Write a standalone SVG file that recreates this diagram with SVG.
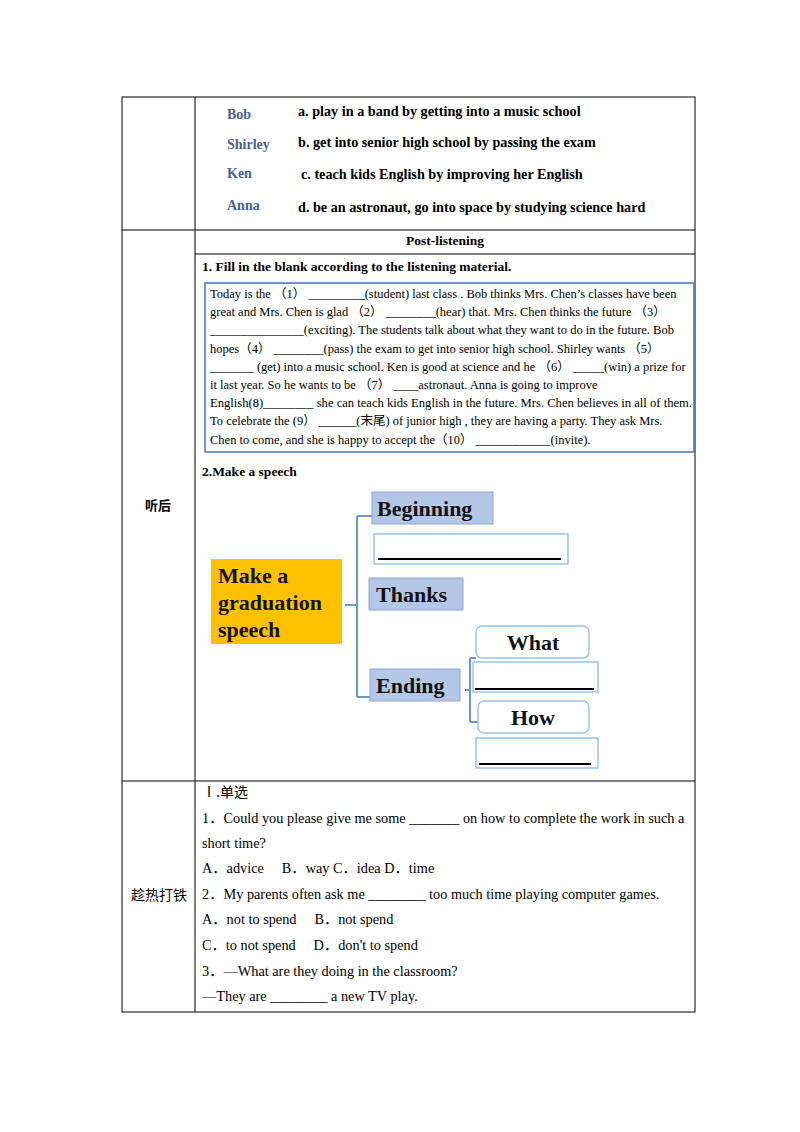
<svg xmlns="http://www.w3.org/2000/svg" width="800" height="1132" viewBox="0 0 800 1132">
<style>
.t{font-family:"Liberation Serif","Noto Sans CJK SC",serif;font-size:14.3px;fill:#000}
.b{font-weight:bold}
.m{font-size:14.2px}
.n{font-family:"Liberation Serif",serif;font-weight:bold;font-size:14px;fill:#4a5f96}
.cn{font-family:"Noto Sans CJK SC",sans-serif;font-size:13px;fill:#000}
.g{fill:none;stroke:#000;stroke-width:1}
.mm{font-family:"Liberation Serif",serif;font-weight:bold;font-size:22px;fill:#111}
.bl{fill:#b4c7e7;stroke:#8ea6cf;stroke-width:1}
.wb{fill:#fff;stroke:#9dc3e6;stroke-width:1.5}
.ul{stroke:#000;stroke-width:2}
.c{fill:none;stroke:#6f93cc;stroke-width:2}
</style>
<rect width="800" height="1132" fill="#fff"/>
<g id="table">
<rect class="g" x="122" y="97" width="573" height="915"/>
<line class="g" x1="195" y1="97" x2="195" y2="1012"/>
<line class="g" x1="122" y1="230" x2="695" y2="230"/>
<line class="g" x1="195" y1="254" x2="695" y2="254"/>
<line class="g" x1="122" y1="781" x2="695" y2="781"/>
</g>
<g id="matching">
<text class="n" x="227" y="119">Bob</text>
<text class="n" x="227" y="149">Shirley</text>
<text class="n" x="227" y="178">Ken</text>
<text class="n" x="227" y="210">Anna</text>
<text class="t b m" x="298" y="116">a. play in a band by getting into a music school</text>
<text class="t b m" x="298" y="147">b. get into senior high school by passing the exam</text>
<text class="t b m" x="301" y="179">c. teach kids English by improving her English</text>
<text class="t b m" x="298" y="212">d. be an astronaut, go into space by studying science hard</text>
</g>
<text class="t b" x="445" y="245" text-anchor="middle" style="font-size:13.5px">Post-listening</text>
<text class="t b" x="202" y="271" style="font-size:13.5px">1. Fill in the blank according to the listening material.</text>
<g id="fillbox">
<rect x="205" y="283" width="489" height="169" fill="#fff" stroke="#4472c4" stroke-width="1.5"/>
<g class="t" style="font-size:12.5px">
<text x="210" y="298">Today is the （1） _________(student) last class . Bob thinks Mrs. Chen’s classes have been</text>
<text x="210" y="316">great and Mrs. Chen is glad （2） ________(hear) that. Mrs. Chen thinks the future （3）</text>
<text x="210" y="334">_______________(exciting). The students talk about what they want to do in the future. Bob</text>
<text x="210" y="353">hopes（4） ________(pass) the exam to get into senior high school.  Shirley wants （5）</text>
<text x="210" y="371">_______ (get) into a music school. Ken is good at science and he （6） _____(win) a prize for</text>
<text x="210" y="389">it last year. So he wants to be （7） ____astronaut. Anna is going to improve</text>
<text x="210" y="407" textLength="482" lengthAdjust="spacingAndGlyphs">English(8)________ she can teach kids English in the future. Mrs. Chen believes in all of them.</text>
<text x="210" y="425">To celebrate the (9） ______(末尾) of junior high , they are having a party. They ask Mrs.</text>
<text x="210" y="444">Chen to come, and she is happy to accept the（10） ____________(invite).</text>
</g>
</g>
<text class="t b" x="202" y="476" style="font-size:13.5px">2.Make  a speech</text>
<text class="cn" x="145" y="510" font-weight="bold">听后</text>
<g id="connectors">
<path class="c" d="M345 605H357M357 516V697M357 516H372M357 697H372"/>
<path class="c" d="M465 690H470M470 658V722M470 658H476M470 722H478"/>
</g>
<g id="make"><rect x="211" y="559" width="131" height="85" fill="#ffc000"/>
<text class="mm" x="218" y="583">Make a</text><text class="mm" x="218" y="610">graduation</text><text class="mm" x="218" y="637">speech</text></g>
<g id="beginning"><rect class="bl" x="372" y="492" width="121" height="32"/><text class="mm" x="377" y="516">Beginning</text></g>
<g id="blank1"><rect class="wb" x="374" y="534" width="194" height="30"/><line class="ul" x1="378" y1="559" x2="561" y2="559"/></g>
<g id="thanks"><rect class="bl" x="369" y="578" width="94" height="32"/><text class="mm" x="376" y="602">Thanks</text></g>
<g id="ending"><rect class="bl" x="370" y="669" width="90" height="32"/><text class="mm" x="376" y="693">Ending</text></g>
<g id="what"><rect class="wb" x="476" y="626" width="113" height="32" rx="6"/><text class="mm" x="533" y="650" text-anchor="middle">What</text></g>
<g id="blank2"><rect class="wb" x="473" y="662" width="125" height="30"/><line class="ul" x1="475" y1="689" x2="594" y2="689"/></g>
<g id="how"><rect class="wb" x="478" y="701" width="111" height="32" rx="6"/><text class="mm" x="533" y="725" text-anchor="middle">How</text></g>
<g id="blank3"><rect class="wb" x="476" y="738" width="122" height="30"/><line class="ul" x1="479" y1="764" x2="591" y2="764"/></g>
<g id="practice" class="t">
<text class="cn" x="131" y="900" style="font-size:14px">趁热打铁</text>
<text x="202" y="797"><tspan class="cn" style="font-size:14px">Ⅰ.单选</tspan></text>
<text x="202" y="823">1．Could you please give me some _______ on how to complete the work in such a</text>
<text x="202" y="848">short time?</text>
<text x="202" y="873">A．advice　 B．way  C．idea  D．time</text>
<text x="202" y="899">2．My parents often ask me ________ too much time playing computer games.</text>
<text x="202" y="924">A．not to spend　 B．not spend</text>
<text x="202" y="950">C．to not spend　 D．don't to spend</text>
<text x="202" y="976">3．—What are they doing in the classroom?</text>
<text x="202" y="1001">—They are ________ a new TV play.</text>
</g>
</svg>
